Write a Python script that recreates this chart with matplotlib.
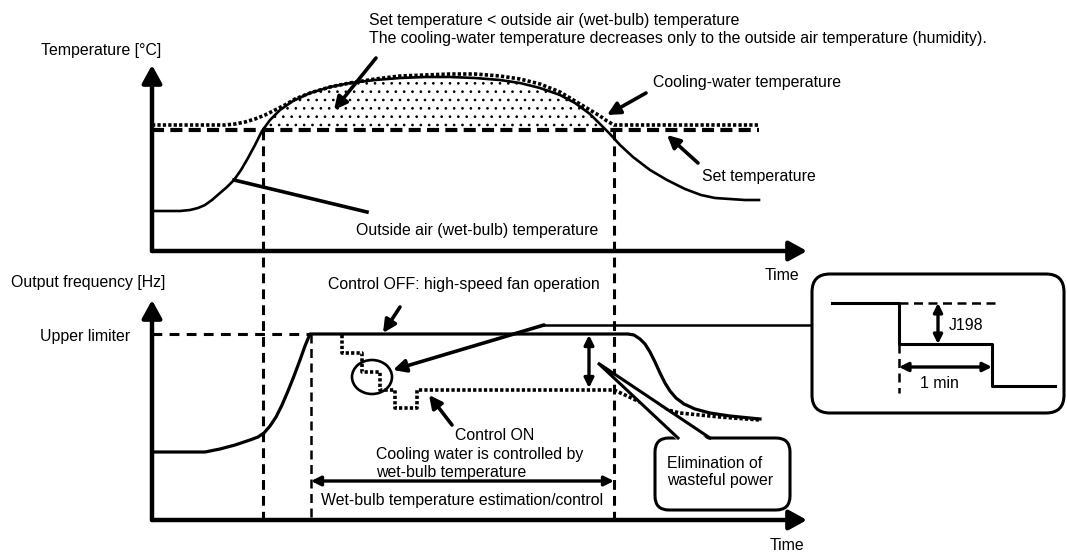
import numpy as np
import matplotlib.pyplot as plt
from matplotlib.patches import FancyBboxPatch, Polygon, Ellipse, FancyArrowPatch

plt.rcParams['font.family'] = ['Liberation Sans', 'DejaVu Sans']
plt.rcParams['hatch.linewidth'] = 0.7

# Drawing units are pixels measured from the top-left corner
# Upper panel: temperatures
wb_x = [152, 180, 190, 198, 205, 212, 220, 227, 234, 241, 248, 255, 262, 270,
        280, 293, 310, 330, 350, 375, 400, 425, 450, 475, 500, 520, 540, 560,
        575, 590, 600, 610, 620, 633, 650, 667, 685, 701, 715, 730, 745, 759]
wb_y = [211, 211, 210, 208, 205, 200, 193, 187, 180, 170, 158, 145, 131, 120,
        110, 101, 93, 87, 83, 80, 78, 77, 77, 78, 80, 83, 88, 95,
        103, 114, 124, 134, 145, 157, 170, 180, 189, 195, 198, 199, 200, 200]
cw_x = [152, 225, 235, 245, 255, 265, 275, 285, 295, 310, 330, 350, 375, 400,
        425, 450, 475, 500, 520, 540, 560, 575, 590, 600, 607, 614, 759]
cw_y = [125, 125, 124, 122, 119, 115, 110, 105, 99, 93, 87, 83, 79, 76,
        75, 74, 74, 76, 79, 84, 92, 101, 110, 116, 121, 125, 125]
set_temp = 130

# Lower panel: output frequency
freq_x = [152, 205, 220, 235, 250, 258, 264, 270, 276, 282, 288, 294, 300, 305,
          310, 628, 634, 640, 645, 650, 655, 660, 665, 670, 676, 684, 695, 710,
          730, 760]
freq_y = [452, 452, 449, 445, 440, 437, 433, 426, 417, 405, 391, 376, 360, 346,
          334, 334, 335, 339, 344, 352, 362, 373, 383, 391, 398, 404, 409, 413,
          416, 419]
ctrl_x = [342, 342, 362, 362, 380, 380, 395, 395, 417, 417, 614, 625, 640, 660,
          680, 720, 760]
ctrl_y = [335, 353, 353, 372, 372, 390, 390, 408, 408, 390, 390, 395, 402, 408,
          413, 417, 420]
upper_limit = 334

# Detail view of one control step
step_x = [832, 899, 899, 992, 992, 1055]
step_y = [303, 303, 344, 344, 386, 386]

fig = plt.figure(figsize=(10.67, 5.52), dpi=100)
ax = fig.add_axes([0, 0, 1, 1])
ax.set_xlim(0, 1067)
ax.set_ylim(552, 0)
ax.axis('off')

K = 'black'
FS = 11.4


def arrow(x0, y0, x1, y1, style='-|>', lw=2.6, ms=19, z=5):
    ax.add_patch(FancyArrowPatch((x0, y0), (x1, y1), arrowstyle=style,
                                 mutation_scale=ms, lw=lw, color=K,
                                 shrinkA=0, shrinkB=0, zorder=z))


def label(x, y, s, ha='left'):
    ax.text(x, y, s, fontsize=FS, ha=ha, va='center', color=K, zorder=8)


# ---- upper panel ----
wb = np.array(wb_y)
ax.fill_between(wb_x, wb_y, set_temp, where=wb < set_temp, interpolate=True,
                facecolor='none', edgecolor=K, hatch='..', lw=0, zorder=1)
ax.plot([152, 759], [set_temp, set_temp], color=K, lw=3,
        linestyle=(0, (2.9, 1.5)), zorder=3)
ax.plot(cw_x, cw_y, color=K, lw=2.6, linestyle=(0, (0.9, 0.6)), zorder=3)
ax.plot(wb_x, wb_y, color=K, lw=1.9, zorder=4, solid_joinstyle='round')

arrow(152, 251, 807, 251, style='-|>,head_length=0.4,head_width=0.22', lw=3.2, ms=27)
arrow(152, 251, 152, 65, style='-|>,head_length=0.4,head_width=0.22', lw=3.2, ms=27)

# vertical guides through both panels
for gx in (263, 614):
    ax.plot([gx, gx], [set_temp, 520], color=K, lw=2.2,
            linestyle=(0, (3.2, 2)), zorder=2)
ax.plot([311, 311], [upper_limit, 520], color=K, lw=1.8,
        linestyle=(0, (3.6, 2.2)), zorder=2)

arrow(376, 58, 334, 110)
arrow(646, 93, 607, 115)
arrow(698, 163, 667, 135)
ax.plot([367, 234], [212, 180], color=K, lw=2.6, zorder=5)

label(369, 21, 'Set temperature < outside air (wet-bulb) temperature')
label(369, 39, 'The cooling-water temperature decreases only to the outside air temperature (humidity).')
label(41, 50, 'Temperature [°C]')
label(653, 83, 'Cooling-water temperature')
label(702, 176, 'Set temperature')
label(356, 231, 'Outside air (wet-bulb) temperature')
label(765, 275, 'Time')

# ---- lower panel ----
arrow(152, 520, 807, 520, style='-|>,head_length=0.4,head_width=0.22', lw=3.2, ms=27)
arrow(152, 520, 152, 300, style='-|>,head_length=0.4,head_width=0.22', lw=3.2, ms=27)

ax.plot([152, 310], [upper_limit, upper_limit], color=K, lw=2.2,
        linestyle=(0, (3.2, 2.4)), zorder=2)
ax.plot(ctrl_x, ctrl_y, color=K, lw=2.6, linestyle=(0, (0.9, 0.6)), zorder=3)
ax.plot(freq_x, freq_y, color=K, lw=2.3, zorder=4, solid_joinstyle='round')

ax.add_patch(Ellipse((372, 377), 40, 34, fill=False, ec=K, lw=1.9, zorder=5))

# leader from the detail view to the circled step
ax.plot([812, 544], [325, 325], color=K, lw=1.8, zorder=5)
arrow(544, 325, 393, 370)

arrow(400, 307, 383, 333)
arrow(452, 425, 429, 395)
arrow(589, 335, 589, 388, style='<|-|>', lw=2.4, ms=14)
arrow(311, 481, 614, 481, style='<|-|>', lw=2.4, ms=14)

# callout bubble
ax.add_patch(FancyBboxPatch((655, 438), 135, 72,
                            boxstyle='round,pad=0,rounding_size=14',
                            fc='white', ec=K, lw=2.2, zorder=6))
ax.add_patch(Polygon([[598, 363], [678, 441], [710, 441]], closed=True,
                     fc='white', ec='none', zorder=6))
ax.plot([678, 598, 710], [438, 363, 438], color=K, lw=2.2, zorder=7,
        solid_joinstyle='miter')

label(11, 282, 'Output frequency [Hz]')
label(328, 285, 'Control OFF: high-speed fan operation')
label(40, 336, 'Upper limiter')
label(495, 435, 'Control ON', ha='center')
label(376, 454, 'Cooling water is controlled by')
label(376, 472, 'wet-bulb temperature')
label(667, 463, 'Elimination of')
label(667, 481, 'wasteful power')
label(321, 501, 'Wet-bulb temperature estimation/control')
label(770, 545, 'Time')

# ---- detail view ----
ax.add_patch(FancyBboxPatch((812, 274), 252, 139,
                            boxstyle='round,pad=0,rounding_size=18',
                            fc='white', ec=K, lw=2.2, zorder=6))
ax.plot(step_x, step_y, color=K, lw=2.2, zorder=7)
ax.plot([899, 997], [303, 303], color=K, lw=1.8, linestyle=(0, (3.6, 2.2)), zorder=7)
ax.plot([899, 899], [344, 393], color=K, lw=1.8, linestyle=(0, (3.6, 2.2)), zorder=7)
arrow(938, 303, 938, 344, style='<|-|>', lw=2.4, ms=13, z=8)
arrow(899, 367, 992, 367, style='<|-|>', lw=2.4, ms=13, z=8)
label(949, 325, 'J198')
label(920, 383, '1 min')

fig.savefig('out.png', dpi=100, facecolor='white')
